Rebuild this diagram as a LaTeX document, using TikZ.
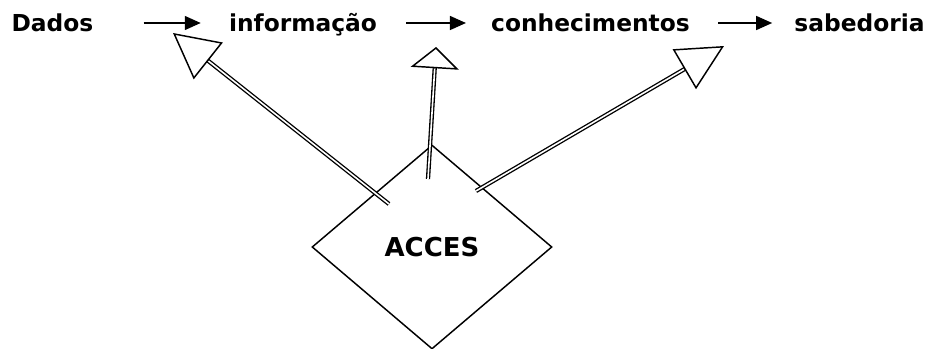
\documentclass[tikz,border=0pt]{standalone}
\usepackage{fontspec}
\setmainfont{DejaVu Sans}
\usetikzlibrary{shapes.geometric,arrows.meta,calc}

\tikzset{
	word/.style={font=\fontsize{17.5}{21}\selectfont\bfseries, anchor=base, inner sep=0pt, text height=13.5pt, text depth=0pt},
	flow/.style={line width=1.1pt, -{Triangle[length=12pt,width=10.5pt]}},
	gate/.style={draw, diamond, line width=1.1pt, minimum width=180pt, minimum height=153pt, inner sep=0pt, font=\fontsize{19.5}{23}\selectfont\bfseries},
	shaft/.style={line width=1pt, double, double distance=1.2pt},
	hollow/.style={line width=1.1pt, -{Triangle[open,#1]}}
}

\begin{document}
\begin{tikzpicture}[x=0.75pt,y=-0.75pt]
	
	\useasboundingbox (0,0) rectangle (932,349);
	
	\node[word] (dados) at (52.5,32) {Dados};
	\node[word] (info) at (303,32) {informação};
	\node[word] (conh) at (590.5,32) {conhecimentos};
	\node[word] (sab) at (859.5,32) {sabedoria};
	
	\draw[flow, shorten <=37.5pt, shorten >=21pt] (dados) -- (info);
	\draw[flow, shorten <=21.75pt, shorten >=18.75pt] (info) -- (conh);
	\draw[flow, shorten <=21pt, shorten >=16.5pt] (conh) -- (sab);
	
	\node[gate] (acces) at (432,247) {ACCES};
	
	\coordinate (in1) at ($(acces)+(-43,-43)$);
	\coordinate (in2) at ($(acces)+(-4,-68)$);
	\coordinate (in3) at ($(acces)+(44,-56)$);
	\coordinate (tip1) at (173,33);
	\coordinate (tip2) at (436,47);
	\coordinate (tip3) at (724,46);
	
	\draw[shaft, shorten >=33pt] (in1) -- (tip1);
	\draw[hollow={length=33.75pt,width=35pt}] ($(tip1)!33.75pt!(in1)$) -- (tip1);
	
	\draw[shaft, shorten >=15.5pt] (in2) -- (tip2);
	\draw[hollow={length=16pt,width=36pt}] ($(tip2)!16pt!(in2)$) -- (tip2);
	
	\draw[shaft, shorten >=34pt] (in3) -- (tip3);
	\draw[hollow={length=34.5pt,width=34.5pt}] ($(tip3)!34.5pt!(in3)$) -- (tip3);
	
\end{tikzpicture}
\end{document}
